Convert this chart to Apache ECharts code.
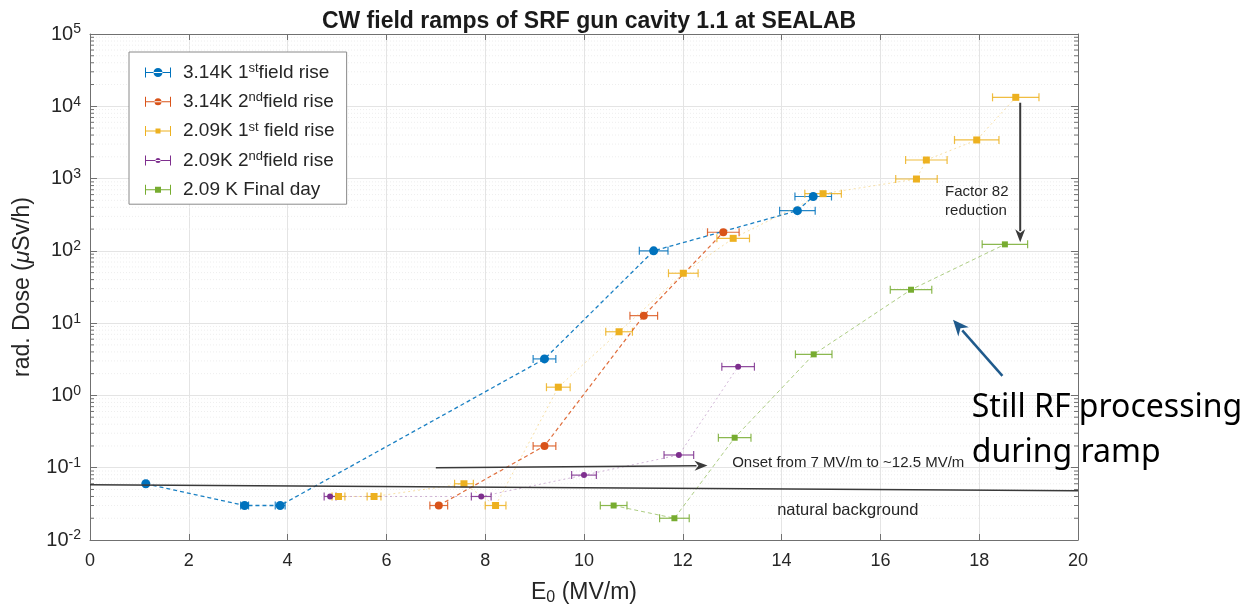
<!DOCTYPE html>
<html>
<head>
<meta charset="utf-8">
<script src="https://cdn.jsdelivr.net/npm/echarts@6/dist/echarts.min.js"></script>
<style>
  html, body { margin: 0; padding: 0; background: #fff; }
  #chart { width: 1245px; height: 613px; }
</style>
</head>
<body>
<div id="chart"></div>
<script>
// values: E0 in MV/m, dose in uSv/h, horizontal error in MV/m
const blueE    = [1.13, 3.13, 3.85, 9.2, 11.41, 14.32, 14.64];
const blueDose = [0.06, 0.03, 0.03, 3.2, 100, 360, 565];
const blueErr  = [0.03, 0.08, 0.1, 0.23, 0.29, 0.36, 0.37];

const orangeE    = [7.06, 9.2, 11.21, 12.82];
const orangeDose = [0.03, 0.2, 12.7, 181];
const orangeErr  = [0.18, 0.23, 0.28, 0.32];

const yellowE    = [5.03, 5.75, 7.57, 8.21, 9.48, 10.71, 12.01, 13.02, 14.84, 16.73, 16.93, 17.95, 18.74];
const yellowDose = [0.04, 0.04, 0.06, 0.03, 1.3, 7.6, 49, 149, 618, 986, 1806, 3420, 13300];
const yellowErr  = [0.13, 0.14, 0.19, 0.21, 0.24, 0.27, 0.3, 0.33, 0.37, 0.42, 0.42, 0.45, 0.47];

const purpleE    = [4.86, 7.92, 10.0, 11.92, 13.12];
const purpleDose = [0.04, 0.04, 0.079, 0.15, 2.5];
const purpleErr  = [0.12, 0.2, 0.25, 0.3, 0.33];

const greenE    = [10.6, 11.83, 13.05, 14.65, 16.62, 18.52];
const greenDose = [0.03, 0.02, 0.26, 3.7, 29, 123];
const greenErr  = [0.27, 0.3, 0.33, 0.37, 0.42, 0.46];

const seriesNames = ['3.14K 1st field rise', '3.14K 2nd field rise', '2.09K 1st field rise', '2.09K 2nd field rise', '2.09 K Final day'];
const legendLabels = ['3.14K 1{sup|st}field rise', '3.14K 2{sup|nd}field rise', '2.09K 1{sup|st} field rise', '2.09K 2{sup|nd}field rise', '2.09 K Final day'];
const colors = ['#0072BD', '#D95319', '#EDB120', '#7E2F8E', '#77AC30'];

const xTicks = [0, 2, 4, 6, 8, 10, 12, 14, 16, 18, 20];
const yDecades = [-2, -1, 0, 1, 2, 3, 4, 5];

// annotation anchors in data coordinates
const backgroundLine = [[0, 0.058], [20, 0.048]];
const onsetArrow = [[7, 0.1], [12.5, 0.107]];
const factorArrow = [[18.83, 11200], [18.83, 132]];
const processArrow = [[18.47, 1.86], [17.47, 11.1]];

const font = '"Liberation Sans", Arial, sans-serif';
const textColor = '#262626';
const axisColor = '#707070';

function pairs(xs, ys) { return xs.map((x, i) => [x, ys[i]]); }
function triples(xs, ys, es) { return xs.map((x, i) => [x, ys[i], es[i]]); }

const groups = [
  { x: blueE, y: blueDose, e: blueErr, symbol: 'circle', size: 9, dash: [4, 3], width: 1.3, lineOpacity: 0.9 },
  { x: orangeE, y: orangeDose, e: orangeErr, symbol: 'circle', size: 8, dash: [4, 3], width: 1.2, lineOpacity: 0.85 },
  { x: yellowE, y: yellowDose, e: yellowErr, symbol: 'rect', size: 7, dash: [2, 3], width: 1, lineOpacity: 0.4 },
  { x: purpleE, y: purpleDose, e: purpleErr, symbol: 'circle', size: 6, dash: [2, 3], width: 1, lineOpacity: 0.35 },
  { x: greenE, y: greenDose, e: greenErr, symbol: 'rect', size: 6, dash: [4, 3], width: 1, lineOpacity: 0.6 }
];

// legend icons: error bar with marker
const bar = 'M0,4.5h26v1h-26zM0,0h1v10h-1zM25,0h1v10h-1z';
const legendIcons = [
  'path://' + bar + 'M8.5,5a4.5,4.5 0 1,0 9,0a4.5,4.5 0 1,0 -9,0z',
  'path://' + bar + 'M9.5,5a3.5,3.5 0 1,0 7,0a3.5,3.5 0 1,0 -7,0z',
  'path://' + bar + 'M10.5,2.5h5v5h-5z',
  'path://' + bar + 'M10.5,5a2.5,2.5 0 1,0 5,0a2.5,2.5 0 1,0 -5,0z',
  'path://' + bar + 'M10,2h6v6h-6z'
];

function errorBarRender(params, api) {
  const x = api.value(0), y = api.value(1), e = api.value(2);
  const p1 = api.coord([x - e, y]);
  const p2 = api.coord([x + e, y]);
  const cap = 4;
  const style = { stroke: api.visual('color'), lineWidth: 1.2, opacity: 0.85 };
  return {
    type: 'group',
    children: [
      { type: 'line', shape: { x1: p1[0], y1: p1[1], x2: p2[0], y2: p2[1] }, style: style },
      { type: 'line', shape: { x1: p1[0], y1: p1[1] - cap, x2: p1[0], y2: p1[1] + cap }, style: style },
      { type: 'line', shape: { x1: p2[0], y1: p2[1] - cap, x2: p2[0], y2: p2[1] + cap }, style: style }
    ]
  };
}

// minor log grid lines (2..9 per decade) with inward ticks on both sides
const minorValues = [];
for (let d = -2; d < 5; d++) {
  for (let k = 2; k <= 9; k++) minorValues.push([0, +(k * Math.pow(10, d)).toPrecision(3)]);
}

function minorRender(params, api) {
  const cs = params.coordSys;
  const y = api.coord([0, api.value(1)])[1];
  return {
    type: 'group',
    children: [
      { type: 'line', shape: { x1: cs.x, y1: y, x2: cs.x + cs.width, y2: y }, style: { stroke: '#eeeeee', lineWidth: 1, lineDash: [1, 2] } },
      { type: 'line', shape: { x1: cs.x, y1: y, x2: cs.x + 4, y2: y }, style: { stroke: axisColor, lineWidth: 1 } },
      { type: 'line', shape: { x1: cs.x + cs.width - 4, y1: y, x2: cs.x + cs.width, y2: y }, style: { stroke: axisColor, lineWidth: 1 } }
    ]
  };
}

const series = [{
  type: 'custom',
  name: 'minor',
  silent: true,
  renderItem: minorRender,
  data: minorValues,
  z: 0
}];

groups.forEach((g, i) => {
  series.push({
    type: 'custom',
    name: seriesNames[i] + ' err',
    silent: true,
    renderItem: errorBarRender,
    itemStyle: { color: colors[i] },
    data: triples(g.x, g.y, g.e),
    z: 2
  });
  series.push({
    type: 'line',
    name: seriesNames[i],
    data: pairs(g.x, g.y),
    symbol: g.symbol,
    symbolSize: g.size,
    showSymbol: true,
    color: colors[i],
    itemStyle: { color: colors[i] },
    lineStyle: { color: colors[i], width: g.width, type: g.dash, opacity: g.lineOpacity },
    z: 3
  });
});

const chart = echarts.init(document.getElementById('chart'));

const supRich = {
  sup: { fontSize: 13, lineHeight: 12, verticalAlign: 'top', fontFamily: font, color: textColor }
};

chart.setOption({
  animation: false,
  backgroundColor: '#fff',
  title: {
    text: 'CW field ramps of SRF gun cavity 1.1 at SEALAB',
    left: 584,
    textAlign: 'center',
    top: 5,
    textStyle: { fontFamily: font, fontSize: 23, fontWeight: 'bold', color: '#1a1a1a' }
  },
  grid: { left: 90, right: 167, top: 34, bottom: 73 },
  legend: {
    orient: 'vertical',
    left: 129,
    top: 52,
    padding: [10, 12, 4, 16],
    itemWidth: 26,
    itemHeight: 10,
    itemGap: 8.3,
    borderColor: '#8a8a8a',
    borderWidth: 1,
    backgroundColor: '#fff',
    selectedMode: false,
    data: seriesNames.map((n, i) => ({ name: n, icon: legendIcons[i] })),
    formatter: name => legendLabels[seriesNames.indexOf(name)],
    textStyle: {
      fontFamily: font, fontSize: 19, lineHeight: 21, color: textColor, padding: [0, 0, 0, 7],
      rich: supRich
    }
  },
  xAxis: [{
    type: 'value',
    min: 0, max: 20, interval: 2,
    name: 'E{sub|0} (MV/m)',
    nameLocation: 'middle',
    nameGap: 40,
    nameTextStyle: {
      fontFamily: font, fontSize: 23, color: textColor, lineHeight: 26,
      rich: { sub: { fontSize: 16, lineHeight: 16, verticalAlign: 'bottom', padding: [12, 0, 0, 0], fontFamily: font, color: textColor } }
    },
    axisLine: { show: true, onZero: false, lineStyle: { color: axisColor, width: 1 } },
    axisTick: { show: true, inside: true, length: 6, lineStyle: { color: axisColor } },
    axisLabel: { fontFamily: font, fontSize: 18, color: textColor, margin: 12,
      formatter: v => xTicks.indexOf(v) >= 0 ? String(v) : '' },
    splitLine: { show: true, lineStyle: { color: '#e4e4e4', width: 1 } }
  }, {
    type: 'value',
    position: 'top',
    min: 0, max: 20, interval: 2,
    axisLine: { show: true, onZero: false, lineStyle: { color: axisColor, width: 1 } },
    axisTick: { show: true, inside: true, length: 6, lineStyle: { color: axisColor } },
    axisLabel: { show: false },
    splitLine: { show: false }
  }],
  yAxis: [{
    type: 'log',
    logBase: 10,
    min: 0.01, max: 100000,
    name: 'rad. Dose ({it|μ}Sv/h)',
    nameLocation: 'middle',
    nameGap: 56,
    nameTextStyle: {
      fontFamily: font, fontSize: 23, color: textColor,
      rich: { it: { fontStyle: 'italic', fontSize: 23, fontFamily: font, color: textColor } }
    },
    axisLine: { show: true, onZero: false, lineStyle: { color: axisColor, width: 1 } },
    axisTick: { show: true, inside: true, length: 7, lineStyle: { color: axisColor } },
    axisLabel: {
      fontFamily: font, fontSize: 20, color: textColor, margin: 9, lineHeight: 23,
      formatter: v => {
        const p = Math.round(Math.log10(v));
        return yDecades.indexOf(p) >= 0 ? '10{sup|' + p + '}' : '';
      },
      rich: { sup: { fontSize: 14, lineHeight: 13, verticalAlign: 'top', fontFamily: font, color: textColor } }
    },
    splitLine: { show: true, lineStyle: { color: '#e4e4e4', width: 1 } }
  }, {
    type: 'log',
    logBase: 10,
    position: 'right',
    min: 0.01, max: 100000,
    axisLine: { show: true, onZero: false, lineStyle: { color: axisColor, width: 1 } },
    axisTick: { show: true, inside: true, length: 7, lineStyle: { color: axisColor } },
    axisLabel: { show: false },
    splitLine: { show: false }
  }],
  series: series
});

// annotations placed from data coordinates
function px(p) { return chart.convertToPixel({ xAxisIndex: 0, yAxisIndex: 0 }, p); }

function arrow(from, to, color, width, headLen, headWid) {
  const a = px(from), b = px(to);
  const dx = b[0] - a[0], dy = b[1] - a[1];
  const len = Math.sqrt(dx * dx + dy * dy);
  const ux = dx / len, uy = dy / len;
  const bx = b[0] - ux * headLen, by = b[1] - uy * headLen;
  return [
    { type: 'line', z: 50, shape: { x1: a[0], y1: a[1], x2: bx + ux * 2, y2: by + uy * 2 }, style: { stroke: color, lineWidth: width } },
    { type: 'polygon', z: 50, shape: { points: [
      [b[0], b[1]],
      [bx - uy * headWid, by + ux * headWid],
      [bx + ux * headLen * 0.3, by + uy * headLen * 0.3],
      [bx + uy * headWid, by - ux * headWid]
    ] }, style: { fill: color } }
  ];
}

const bg0 = px(backgroundLine[0]), bg1 = px(backgroundLine[1]);
const onsetText = px([13.0, 0.116]);
const bgText = px([15.34, 0.0255]);
const factorText = px([17.31, 490]);
const bigText = px([17.85, 0.33]);

const graphics = [
  { type: 'line', z: 50, shape: { x1: bg0[0], y1: bg0[1], x2: bg1[0], y2: bg1[1] }, style: { stroke: '#3a3a3a', lineWidth: 1.5 } },
  ...arrow(onsetArrow[0], onsetArrow[1], '#3a3a3a', 1.5, 13, 5),
  ...arrow(factorArrow[0], factorArrow[1], '#3a3a3a', 2, 13, 5),
  ...arrow(processArrow[0], processArrow[1], '#1f5a8c', 2.5, 16, 7),
  { type: 'text', z: 51, x: onsetText[0], y: onsetText[1], style: {
    text: 'Onset from 7 MV/m to ~12.5 MV/m', font: '15px ' + font, fill: '#262626', verticalAlign: 'middle', align: 'left' } },
  { type: 'text', z: 51, x: bgText[0], y: bgText[1], style: {
    text: 'natural background', font: '16.5px ' + font, fill: '#262626', verticalAlign: 'middle', align: 'center' } },
  { type: 'text', z: 51, x: factorText[0], y: factorText[1], style: {
    text: 'Factor 82\nreduction', font: '15px ' + font, lineHeight: 19, fill: '#262626', verticalAlign: 'middle', align: 'left' } },
  { type: 'text', z: 52, x: bigText[0], y: bigText[1], style: {
    text: 'Still RF processing\nduring ramp', font: '32px "Noto Sans", "Open Sans", sans-serif', lineHeight: 45, fill: '#000', verticalAlign: 'middle', align: 'left' } }
];

chart.setOption({ graphic: graphics });
</script>
</body>
</html>
